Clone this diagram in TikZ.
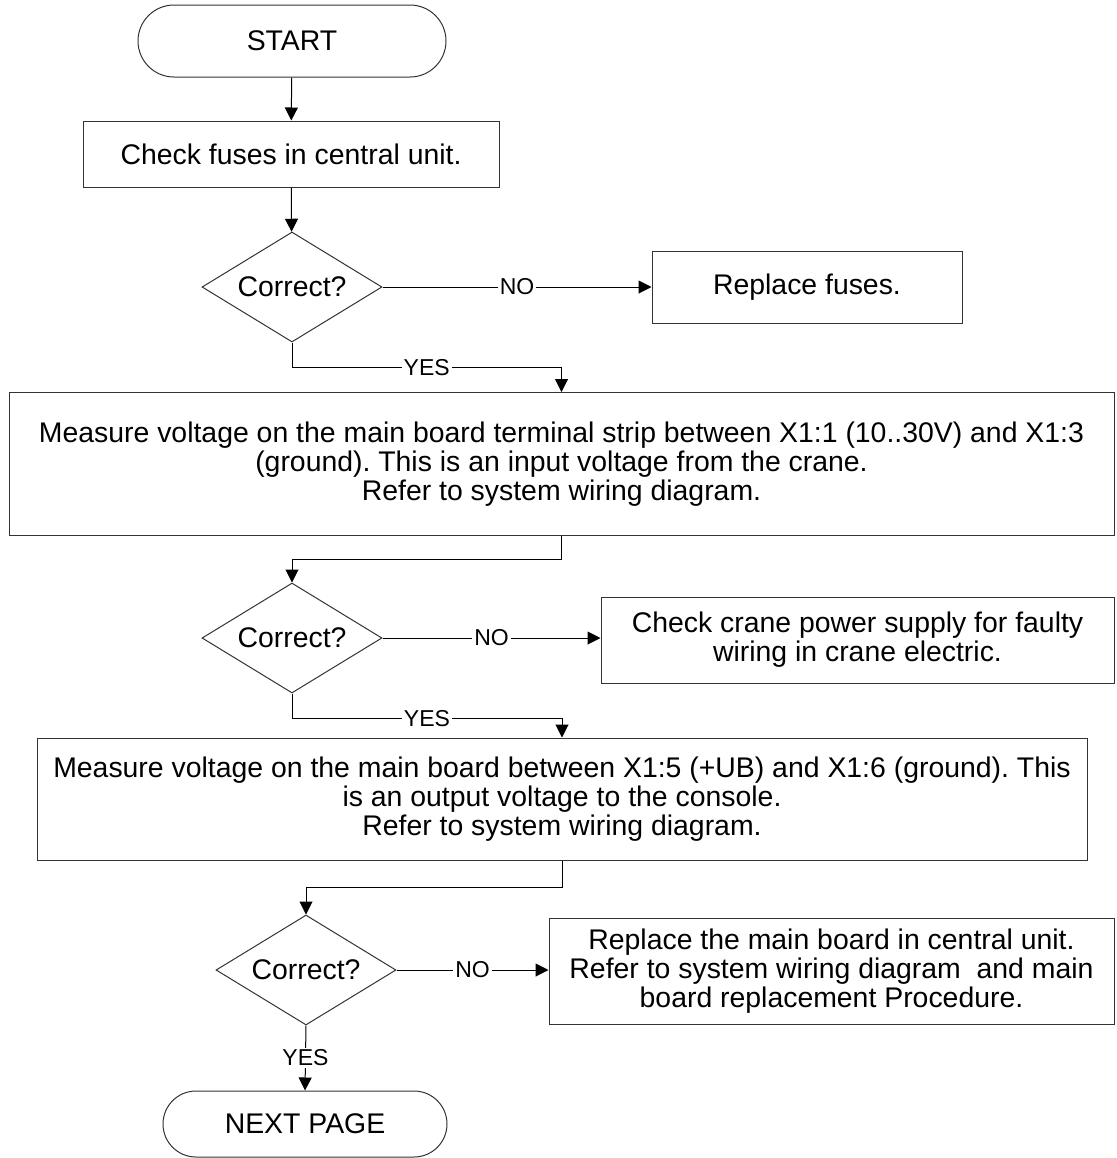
\documentclass[tikz,border=0pt]{standalone}
\usepackage{fontspec}
\setmainfont{Liberation Sans}
\usetikzlibrary{shapes.geometric, arrows.meta}

\newcommand{\boxfont}{\fontsize{14.2}{14.4}\selectfont\frenchspacing\lineskiplimit=-10pt\relax}

\tikzset{
    every node/.style = {font=\boxfont},
    procbox/.style = {draw=black!80, rectangle, inner sep=0pt, align=center},
    decision/.style = {draw=black!80, diamond, aspect=1.64, inner sep=0pt, minimum width=90pt, minimum height=55pt},
    arr/.style = {-{Triangle[length=6.5pt, width=6.5pt]}, line width=0.5pt},
    lbl/.style = {fill=white, inner sep=1pt, font=\fontsize{11.5}{12}\selectfont},
}

\begin{document}
\begin{tikzpicture}[x=0.5pt, y=-0.5pt, line width=0.5pt]
    \useasboundingbox (0,0) rectangle (1117,1158);

    \node[procbox, minimum width=154pt, minimum height=36pt, rounded corners=18pt] (start) at (292,41) {START};
    \node[procbox, minimum width=208pt, minimum height=33pt] (check) at (291,154) {Check fuses in central unit.};
    \node[decision] (dec1) at (292,287) {Correct?};
    \node[procbox, minimum width=155pt, minimum height=36pt] (fuses) at (807,287) {Replace fuses.};
    \node[procbox, minimum width=552.5pt, minimum height=71.5pt] (meas1) at (561.5,464)
        {Measure voltage on the main board terminal strip between X1:1 (10..30V) and X1:3\\
         (ground). This is an input voltage from the crane.\\
         Refer to system wiring diagram.};
    \node[decision] (dec2) at (292,638) {Correct?};
    \node[procbox, minimum width=256.5pt, minimum height=43pt] (crane) at (857.5,640)
        {Check crane power supply for faulty\\ wiring in crane electric.};
    \node[procbox, minimum width=525pt, minimum height=61pt] (meas2) at (562,799)
        {Measure voltage on the main board between X1:5 (+UB) and X1:6 (ground). This\\
         is an output voltage to the console.\\
         Refer to system wiring diagram.};
    \node[decision] (dec3) at (306,970) {Correct?};
    \node[procbox, minimum width=282.5pt, minimum height=53pt] (board) at (831.5,971)
        {Replace the main board in central unit.\\
         Refer to system wiring diagram\ \ and main\\
         board replacement Procedure.};
    \node[procbox, minimum width=142pt, minimum height=33pt, rounded corners=16.5pt] (next) at (305,1124) {NEXT PAGE};

    % connectors
    \draw[arr] (start) -- (check);
    \draw[arr] (check) -- (dec1);
    \draw[arr] (dec1.east) -- node[lbl]{NO} (dec1.east -| fuses.west);
    \draw[arr] (dec1.south) -- ++(0,25) -| node[lbl, pos=0.25]{YES} (meas1.north);
    \draw[arr] (meas1.south) -- ++(0,23) -| (dec2.north);
    \draw[arr] (dec2.east) -- node[lbl]{NO} (dec2.east -| crane.west);
    \draw[arr] (dec2.south) -- ++(0,25) -| node[lbl, pos=0.25]{YES} (meas2.north);
    \draw[arr] (meas2.south) -- ++(0,27) -| (dec3.north);
    \draw[arr] (dec3.east) -- node[lbl]{NO} (dec3.east -| board.west);
    \draw[arr] (dec3.south) -- node[lbl]{YES} (next.north);
\end{tikzpicture}
\end{document}
